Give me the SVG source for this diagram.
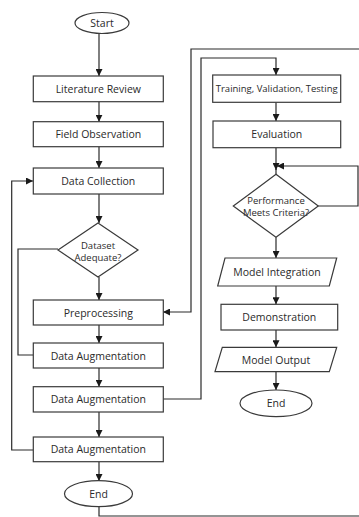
<svg xmlns="http://www.w3.org/2000/svg" width="359" height="517" viewBox="0 0 359 517">
<style>
.n{fill:#fff;stroke:#3a3a3a;stroke-width:1.2}
.t{font-family:"Open Sans","Liberation Sans",sans-serif;font-size:10.5px;fill:#2a2a2a;text-anchor:middle;dominant-baseline:central}
.s{font-size:9.5px}
.c{fill:none;stroke:#2a2a2a;stroke-width:1.2}
</style>
<defs>
<marker id="a" viewBox="0 0 8 8" refX="8" refY="4" markerWidth="7" markerHeight="7" markerUnits="userSpaceOnUse" orient="auto">
<path d="M0,0 L8,4 L0,8 Z" fill="#1a1a1a"/>
</marker>
</defs>
<rect width="359" height="517" fill="#fff"/>
<g id="connectors">
<path class="c" d="M99,33.5 V76" marker-end="url(#a)"/>
<path class="c" d="M99,101.7 V121.7" marker-end="url(#a)"/>
<path class="c" d="M99,146.7 V168" marker-end="url(#a)"/>
<path class="c" d="M99,194 V223" marker-end="url(#a)"/>
<path class="c" d="M99,277 V300" marker-end="url(#a)"/>
<path class="c" d="M99,325 V343" marker-end="url(#a)"/>
<path class="c" d="M99,368 V386.7" marker-end="url(#a)"/>
<path class="c" d="M99,412 V437" marker-end="url(#a)"/>
<path class="c" d="M99,462 V481" marker-end="url(#a)"/>
<path class="c" d="M58,249 H18 V355 H33"/>
<path class="c" d="M33,450 H11.7 V181 H33" marker-end="url(#a)"/>
<path class="c" d="M163,399 H201 V58 H276 V75" marker-end="url(#a)"/>
<path class="c" d="M359,49 H191 V312 H163" marker-end="url(#a)"/>
<path class="c" d="M99,507 V516 H359"/>
<path class="c" d="M276,102.3 V121" marker-end="url(#a)"/>
<path class="c" d="M276,147.7 V170" marker-end="url(#a)"/>
<path class="c" d="M276,168 V174.3"/>
<path class="c" d="M318.3,206 H358 V166 H277" marker-end="url(#a)"/>
<path class="c" d="M276,237.3 V258" marker-end="url(#a)"/>
<path class="c" d="M276,286 V304.3" marker-end="url(#a)"/>
<path class="c" d="M276,330 V347.3" marker-end="url(#a)"/>
<path class="c" d="M276,371.7 V390" marker-end="url(#a)"/>
</g>
<g id="start"><ellipse class="n" cx="102" cy="23" rx="27" ry="10.5"/><text class="t" x="102" y="23">Start</text></g>
<g id="literature-review"><rect class="n" x="33.3" y="76" width="130" height="25.7"/><text class="t" x="98.3" y="89">Literature Review</text></g>
<g id="field-observation"><rect class="n" x="33.3" y="121.7" width="130" height="25"/><text class="t" x="98.3" y="134.2">Field Observation</text></g>
<g id="data-collection"><rect class="n" x="33.3" y="168" width="130" height="26"/><text class="t" x="98.3" y="181">Data Collection</text></g>
<g id="dataset-adequate"><polygon class="n" points="98,223 138,250 98,277 58,250"/><text class="t s" x="98" y="245">Dataset</text><text class="t s" x="98" y="257">Adequate?</text></g>
<g id="preprocessing"><rect class="n" x="33.3" y="300" width="130" height="25"/><text class="t" x="98.3" y="312.5">Preprocessing</text></g>
<g id="data-augmentation-1"><rect class="n" x="33.3" y="343" width="130" height="25"/><text class="t" x="98.3" y="355.5">Data Augmentation</text></g>
<g id="data-augmentation-2"><rect class="n" x="33.3" y="386.7" width="130" height="25.3"/><text class="t" x="98.3" y="399.3">Data Augmentation</text></g>
<g id="data-augmentation-3"><rect class="n" x="33.3" y="437" width="130" height="24.7"/><text class="t" x="98.3" y="449.3">Data Augmentation</text></g>
<g id="end-left"><ellipse class="n" cx="98.5" cy="493.7" rx="34" ry="13"/><text class="t" x="98.5" y="493.7">End</text></g>
<g id="training"><rect class="n" x="212.7" y="75" width="128" height="27.3"/><text class="t s" x="276.7" y="88.7">Training, Validation, Testing</text></g>
<g id="evaluation"><rect class="n" x="213" y="121" width="127.7" height="26.7"/><text class="t" x="276.8" y="134.3">Evaluation</text></g>
<g id="performance"><polygon class="n" points="276,174.3 318.3,206 276,237.3 233.3,206"/><text class="t s" x="276" y="200">Performance</text><text class="t s" x="276" y="212">Meets Criteria?</text></g>
<g id="model-integration"><polygon class="n" points="225,258 336.7,258 329.3,286 217.7,286"/><text class="t" x="277" y="272">Model Integration</text></g>
<g id="demonstration"><rect class="n" x="221" y="304.3" width="116.7" height="25.7"/><text class="t" x="279.3" y="317.2">Demonstration</text></g>
<g id="model-output"><polygon class="n" points="222.3,347.3 336.7,347.3 329.3,371.7 215,371.7"/><text class="t" x="276" y="359.5">Model Output</text></g>
<g id="end-right"><ellipse class="n" cx="276" cy="403.3" rx="36" ry="13.3"/><text class="t" x="276" y="403.3">End</text></g>
</svg>
